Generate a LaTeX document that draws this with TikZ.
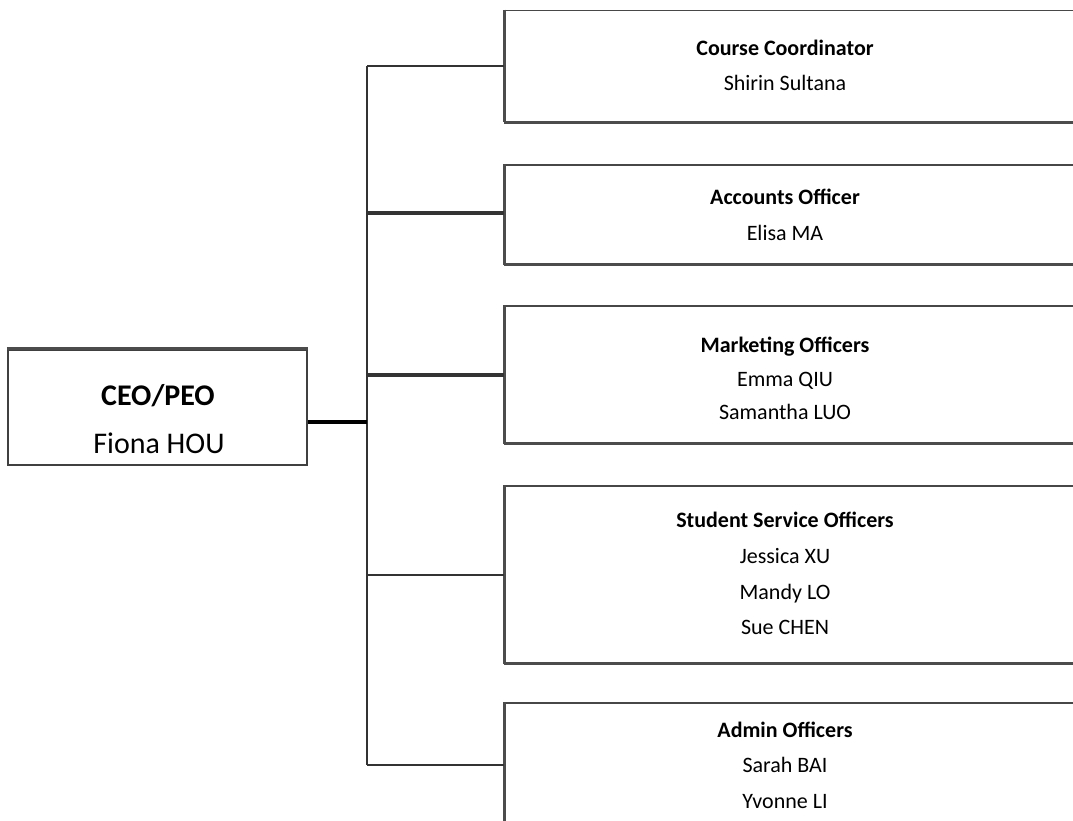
\documentclass[tikz,border=0pt]{standalone}
\usepackage{fontspec}
\setmainfont{Carlito}
\begin{document}
\begin{tikzpicture}[x=1pt,y=-1pt,
  rbox/.style={draw=black!72,line width=1.8pt,fill=white,inner sep=0pt},
  shadowline/.style={draw=black!70,line width=3pt},
  ceobox/.style={draw=black!75,line width=2.2pt,fill=white,inner sep=0pt},
  conn/.style={draw=black!80,line width=2pt},
  connb/.style={draw=black!80,line width=3.2pt},
  ceoconn/.style={draw=black,line width=4.5pt},
  ttl/.style={font=\fontsize{22}{26}\selectfont\bfseries,anchor=base,inner sep=0pt},
  nm/.style={font=\fontsize{22}{26}\selectfont,anchor=base,inner sep=0pt},
  ceottl/.style={font=\fontsize{30}{34}\selectfont\bfseries,anchor=base,inner sep=0pt},
  ceonm/.style={font=\fontsize{30}{34}\selectfont,anchor=base,inner sep=0pt}]
\useasboundingbox (0,0) rectangle (1073,820);
\clip (0,0) rectangle (1073,820);
\fill[white] (0,0) rectangle (1073,820);

% junction coordinates
\coordinate (vtop) at (367,66);
\coordinate (vbot) at (367,765);
\coordinate (j1) at (367,66);
\coordinate (j2) at (367,213);
\coordinate (j3) at (367,375);
\coordinate (j4) at (367,575);
\coordinate (j5) at (367,765);
\coordinate (jc) at (367,422);

% boxes (extend beyond right edge)
\node[ceobox,minimum width=299pt,minimum height=115pt] (ceo) at (157.5,407.5) {};
\node[rbox,minimum width=600pt,minimum height=111pt] (b1) at (805,66) {};
\node[rbox,minimum width=600pt,minimum height=99pt] (b2) at (805,214.5) {};
\node[rbox,minimum width=600pt,minimum height=137pt] (b3) at (805,374.5) {};
\node[rbox,minimum width=600pt,minimum height=177pt] (b4) at (805,574.5) {};
\node[rbox,minimum width=600pt,minimum height=130pt] (b5) at (805,768) {};

% bottom and left shadows
\draw[shadowline] (b1.south west) -- (b1.south east);
\draw[shadowline] (b2.south west) -- (b2.south east);
\draw[shadowline] (b3.south west) -- (b3.south east);
\draw[shadowline] (b4.south west) -- (b4.south east);
\draw[shadowline] (b1.north west) -- (b1.south west);
\draw[shadowline] (b2.north west) -- (b2.south west);
\draw[shadowline] (b3.north west) -- (b3.south west);
\draw[shadowline] (b4.north west) -- (b4.south west);
\draw[shadowline] (b5.north west) -- (b5.south west);
\draw[shadowline] (ceo.north west) -- (ceo.north east);

% connectors
\draw[conn] (vtop) -- (vbot);
\draw[ceoconn] (ceo.east |- jc) -- (jc);
\draw[conn] (j1) -- (b1.west |- j1);
\draw[connb] (j2) -- (b2.west |- j2);
\draw[connb] (j3) -- (b3.west |- j3);
\draw[conn] (j4) -- (b4.west |- j4);
\draw[conn] (j5) -- (b5.west |- j5);

% CEO text
\node[ceottl] (ceot) at (158,405) {CEO/PEO};
\node[ceonm] (ceon) at (159,453) {Fiona HOU};

% box texts
\node[ttl] (t11) at (785,55) {Course Coordinator};
\node[nm]  (t12) at (785,90) {Shirin Sultana};

\node[ttl] (t21) at (785,204) {Accounts Officer};
\node[nm]  (t22) at (785,240) {Elisa MA};

\node[ttl] (t31) at (785,352) {Marketing Officers};
\node[nm]  (t32) at (785,386) {Emma QIU};
\node[nm]  (t33) at (785,419) {Samantha LUO};

\node[ttl] (t41) at (785,527) {Student Service Officers};
\node[nm]  (t42) at (785,563) {Jessica XU};
\node[nm]  (t43) at (785,599) {Mandy LO};
\node[nm]  (t44) at (785,634) {Sue CHEN};

\node[ttl] (t51) at (785,737) {Admin Officers};
\node[nm]  (t52) at (785,772) {Sarah BAI};
\node[nm]  (t53) at (785,808) {Yvonne LI};
\end{tikzpicture}
\end{document}
